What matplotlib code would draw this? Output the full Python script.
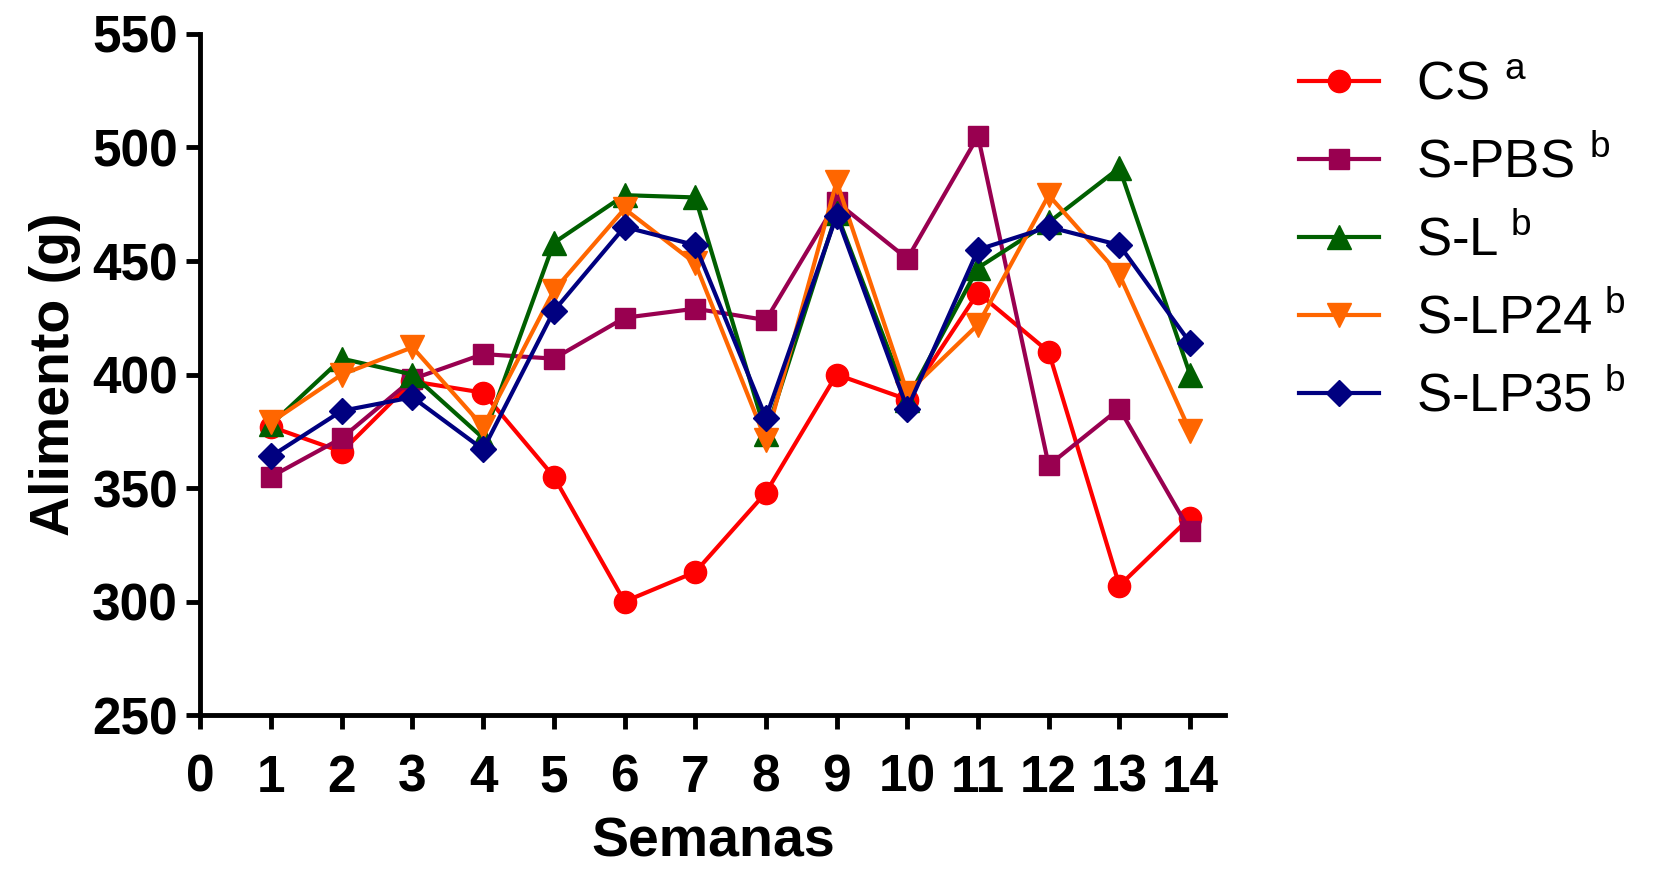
import matplotlib
matplotlib.use('Agg')
from matplotlib import pyplot

pyplot.rcParams['font.family'] = ['Liberation Sans', 'DejaVu Sans']
pyplot.rcParams['mathtext.fontset'] = 'custom'
pyplot.rcParams['mathtext.rm'] = 'Liberation Sans'

semanas = list(range(1, 15))

cs = [377, 366, 397, 392, 355, 300, 313, 348, 400, 389, 436, 410, 307, 337]
s_pbs = [355, 372, 398, 409, 407, 425, 429, 424, 476, 451, 505, 360, 385, 331]
s_l = [378, 407, 400, 372, 458, 479, 478, 374, 471, 389, 447, 467, 491, 400]
s_lp24 = [379, 400, 412, 377, 437, 473, 449, 371, 485, 392, 422, 479, 444, 375]
s_lp35 = [364, 384, 390, 367, 428, 465, 457, 381, 470, 385, 455, 465, 457, 414]

etiquetas = ['CS $^{\\mathrm{a}}$', 'S-PBS $^{\\mathrm{b}}$', 'S-L$^{\\mathrm{\\ b}}$',
             'S-LP24$^{\\mathrm{\\ b}}$', 'S-LP35$^{\\mathrm{\\ b}}$']

fig = pyplot.figure(figsize=(16.56, 8.71), dpi=100)
ax = fig.add_axes([0.121, 0.179, 0.619, 0.782])

ax.plot(semanas, cs, color='#ff0000', marker='o', markersize=16, lw=3, label=etiquetas[0])
ax.plot(semanas, s_pbs, color='#990050', marker='s', markersize=15, lw=3, label=etiquetas[1])
ax.plot(semanas, s_l, color='#005f00', marker='^', markersize=17, lw=3, label=etiquetas[2])
ax.plot(semanas, s_lp24, color='#ff6600', marker='v', markersize=17, lw=3, label=etiquetas[3])
ax.plot(semanas, s_lp35, color='#000080', marker='D', markersize=13, lw=3, label=etiquetas[4])

ax.set_xlim(0, 14.5)
ax.set_ylim(250, 550)
ax.set_xticks(range(0, 15))
ax.set_yticks(range(250, 551, 50))
ax.spines['top'].set_visible(False)
ax.spines['right'].set_visible(False)
ax.spines['left'].set_linewidth(3.5)
ax.spines['bottom'].set_linewidth(3.5)
ax.tick_params(width=3.5, length=10, labelsize=37, direction='out', pad=6)
ax.tick_params(axis='x', pad=18)
for lab in ax.get_xticklabels() + ax.get_yticklabels():
    lab.set_fontweight('bold')

ax.set_xlabel('Semanas', fontsize=40, fontweight='bold', labelpad=10)
ax.set_ylabel('Alimento (g)', fontsize=40, fontweight='bold', labelpad=8)

fig.legend(loc='upper left', bbox_to_anchor=(0.756, 0.985), frameon=False,
           fontsize=38, handlelength=1.5, labelspacing=0.5, handletextpad=0.7)

pyplot.savefig('out.png', dpi=100)
pyplot.close()
